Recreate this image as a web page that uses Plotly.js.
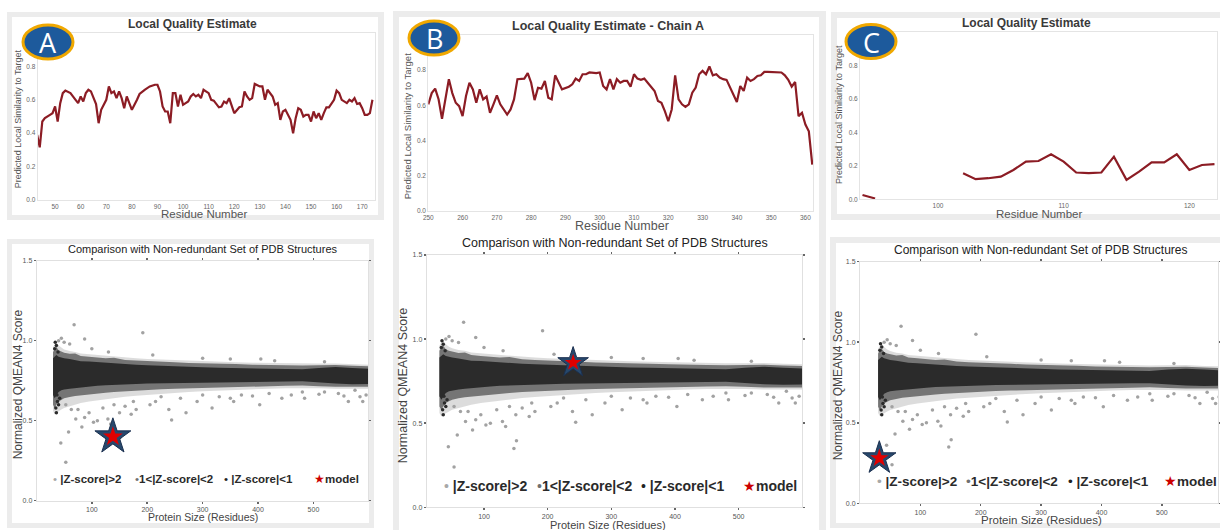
<!DOCTYPE html>
<html><head><meta charset="utf-8">
<script src="https://cdn.plot.ly/plotly-3.0.1.min.js"></script>
<style>html,body{margin:0;padding:0;background:#fff}#chart{width:1220px;height:530px}</style>
</head><body><div id="chart"></div>
<script>
// ---------- Local quality (top row) ----------
const resA = [43,44,45,46,48,49,50,51,52,53,54,56,58,59,60,61,62,63,64,66,67,68,70,71,72,73,74,75,76,77,78,79,80,82,83,85,87,89,90,91,92,93,94,95,96,97,98,99,100,102,103,104,105,106,107,108,110,111,112,114,115,116,117,118,119,120,122,123,124,125,126,127,128,130,131,132,133,134,135,136,137,138,139,140,141,142,143,144,145,146,147,148,149,150,151,152,153,154,155,156,157,159,160,161,162,164,165,166,167,168,169,170,171,172,173,174];
const lqA  = [0.39,0.315,0.47,0.49,0.51,0.52,0.56,0.47,0.58,0.64,0.655,0.64,0.60,0.58,0.62,0.59,0.64,0.66,0.65,0.575,0.46,0.54,0.60,0.68,0.64,0.65,0.61,0.65,0.61,0.55,0.62,0.58,0.54,0.60,0.635,0.66,0.68,0.69,0.69,0.65,0.56,0.53,0.53,0.46,0.64,0.64,0.56,0.63,0.57,0.59,0.62,0.635,0.62,0.63,0.61,0.66,0.64,0.60,0.595,0.555,0.56,0.59,0.58,0.61,0.57,0.52,0.555,0.56,0.65,0.62,0.60,0.61,0.695,0.68,0.68,0.60,0.66,0.64,0.62,0.57,0.58,0.48,0.53,0.54,0.51,0.48,0.40,0.49,0.55,0.54,0.50,0.51,0.51,0.47,0.53,0.49,0.52,0.48,0.52,0.555,0.555,0.60,0.655,0.64,0.60,0.58,0.60,0.59,0.61,0.575,0.58,0.55,0.51,0.51,0.52,0.60];

const resB = [250,251,252,253,254,255,256,257,258,259,260,261,262,263,264,265,266,267,268,269,270,271,272,273,274,275,276,277,278,279,280,281,282,283,284,285,286,287,288,289,291,292,293,294,295,296,297,299,300,301,302,303,304,305,306,307,308,309,310,311,312,313,314,316,317,318,319,320,321,322,323,324,325,326,327,328,329,330,331,332,333,334,335,336,337,338,339,340,341,342,343,344,345,346,347,348,349,350,352,353,354,355,356,357,358,359,360,361,362];
const lqB  = [0.606,0.67,0.695,0.635,0.524,0.635,0.749,0.67,0.615,0.596,0.539,0.653,0.729,0.691,0.615,0.691,0.634,0.65,0.558,0.606,0.657,0.606,0.577,0.548,0.577,0.634,0.749,0.752,0.752,0.783,0.729,0.63,0.70,0.695,0.739,0.644,0.634,0.771,0.729,0.691,0.706,0.72,0.752,0.739,0.777,0.777,0.787,0.783,0.787,0.71,0.691,0.749,0.691,0.749,0.729,0.739,0.739,0.706,0.777,0.752,0.745,0.752,0.729,0.682,0.625,0.615,0.567,0.51,0.577,0.771,0.634,0.606,0.592,0.606,0.672,0.701,0.777,0.796,0.777,0.821,0.771,0.777,0.758,0.749,0.745,0.701,0.653,0.619,0.71,0.682,0.758,0.739,0.749,0.767,0.771,0.79,0.79,0.79,0.787,0.787,0.771,0.745,0.706,0.733,0.539,0.558,0.491,0.453,0.263];

const resC = [94,95,96,102,103,104,105,106,107,108,109,110,111,112,113,114,115,116,117,118,119,120,121,122];
const lqC  = [0.026,0.005,null,0.156,0.12,0.126,0.135,0.175,0.225,0.229,0.269,0.225,0.16,0.156,0.16,0.255,0.116,0.165,0.221,0.221,0.269,0.175,0.205,0.21];

// ---------- PDB reference cloud (bottom row, same set in all panels) ----------
const cloudSize = [30,33,36,40,45,50,60,70,80,95,110,125,140,160,180,200,225,250,275,300,330,360,390,420,450,480,510,540,570,600];
const zLt1Hi = [0.89,0.90,0.91,0.90,0.895,0.89,0.885,0.88,0.872,0.87,0.866,0.86,0.857,0.853,0.85,0.847,0.843,0.84,0.837,0.834,0.831,0.829,0.827,0.825,0.823,0.821,0.83,0.835,0.83,0.825];
const zLt1Lo = [0.66,0.64,0.66,0.68,0.69,0.695,0.70,0.705,0.71,0.714,0.718,0.722,0.725,0.728,0.73,0.732,0.734,0.736,0.738,0.739,0.74,0.741,0.742,0.744,0.745,0.746,0.738,0.732,0.728,0.73];
const z12Hi  = [0.93,0.95,0.96,0.94,0.93,0.925,0.918,0.92,0.905,0.90,0.897,0.89,0.893,0.88,0.876,0.874,0.868,0.866,0.861,0.86,0.855,0.854,0.85,0.85,0.846,0.845,0.846,0.848,0.843,0.84];
const z12Lo  = [0.60,0.58,0.60,0.62,0.63,0.64,0.648,0.655,0.66,0.665,0.67,0.675,0.68,0.685,0.69,0.693,0.697,0.70,0.703,0.706,0.709,0.712,0.714,0.716,0.718,0.72,0.716,0.712,0.71,0.712];
const zGt2Hi = [0.96,0.98,0.99,0.97,0.955,0.945,0.935,0.93,0.92,0.915,0.91,0.905,0.9,0.895,0.89,0.886,0.882,0.878,0.875,0.872,0.868,0.865,0.862,0.86,0.858,0.856,0.857,0.858,0.853,0.85];
const zGt2Lo = [0.56,0.54,0.55,0.56,0.57,0.58,0.59,0.60,0.61,0.62,0.628,0.635,0.642,0.65,0.656,0.662,0.668,0.674,0.679,0.684,0.689,0.693,0.697,0.70,0.703,0.705,0.703,0.70,0.698,0.70];
const outSize  = [68,45,87,192,405,44,53,58,147,151,134,103,87,239,244,270,317,356,403,563,589,584,443,484,205,171,129,110,82,71,63,53,120,140,160,180,215,260,290,330,370,420,460,520,545,575,95,75,150,175,225,300,350,390,480,510,555,595,60,100,130,210,300,350,430,520,40,50];
const outScore = [1.10,1.015,1.01,1.05,0.885,0.36,0.24,0.43,0.35,0.395,0.48,0.49,0.52,0.57,0.505,0.55,0.58,0.62,0.60,0.62,0.62,0.65,0.64,0.64,0.60,0.54,0.51,0.50,0.46,0.51,0.57,0.60,0.58,0.60,0.59,0.57,0.62,0.64,0.62,0.65,0.66,0.67,0.66,0.68,0.67,0.69,0.55,0.57,0.55,0.62,0.65,0.66,0.64,0.655,0.68,0.665,0.655,0.66,0.98,0.95,0.93,0.91,0.89,0.885,0.875,0.868,1.0,0.99];
const darkPtSize  = [33,35,36,38,34,37,40,42,36,39];
const darkPtScore = [0.95,0.58,0.55,0.62,0.99,0.66,0.60,0.64,0.97,0.93];

// model positions
const modelSize  = [138, 240, 32];
const modelScore = [0.40, 0.86, 0.28];

// tick labels
const lqTicksY = [0,0.2,0.4,0.6,0.8];
const ticksA = [50,60,70,80,90,100,110,120,130,140,150,160,170];
const ticksB = [250,260,270,280,290,300,310,320,330,340,350,360];
const ticksC = [100,110,120];
const sizeTicks = [100,200,300,400,500];
const scoreTicks = [0,0.5,1.0,1.5];

// ---------- layout helpers ----------
const W = 1220, H = 530;
const px = x => x / W;
const py = y => 1 - y / H;
const FONT = 'Liberation Sans, Arial, sans-serif';

const traces = [];
const lineColor = '#8c1c24';
function lq(xs, ys, n) {
  traces.push({x: xs, y: ys, type: 'scatter', mode: 'lines', connectgaps: false,
    line: {color: lineColor, width: 2.2}, xaxis: 'x' + n, yaxis: 'y' + n, hoverinfo: 'skip'});
}
lq(resA, lqA, ''); lq(resB, lqB, '2'); lq(resC, lqC, '3');

function band(hi, lo, color, n) {
  traces.push({x: cloudSize.concat(cloudSize.slice().reverse()),
    y: hi.concat(lo.slice().reverse()), type: 'scatter', mode: 'lines', fill: 'toself',
    fillcolor: color, line: {width: 0, color: color}, xaxis: 'x' + n, yaxis: 'y' + n, hoverinfo: 'skip'});
}
[4,5,6].forEach((n, i) => {
  band(zGt2Hi, zGt2Lo, 'rgba(150,150,150,0.33)', n);
  band(z12Hi, z12Lo, '#757575', n);
  band(zLt1Hi, zLt1Lo, '#2b2b2b', n);
  traces.push({x: outSize, y: outScore, type: 'scatter', mode: 'markers',
    marker: {size: 3.5, color: '#a2a2a2'}, xaxis: 'x' + n, yaxis: 'y' + n, hoverinfo: 'skip'});
  traces.push({x: darkPtSize, y: darkPtScore, type: 'scatter', mode: 'markers',
    marker: {size: 3.5, color: '#2b2b2b'}, xaxis: 'x' + n, yaxis: 'y' + n, hoverinfo: 'skip'});
  const ss = [27, 23, 25][i];
  traces.push({x: [modelSize[i]], y: [modelScore[i]], type: 'scatter', mode: 'markers',
    marker: {symbol: 'star', size: ss, color: '#27486c', line: {color: '#1b3050', width: 1}},
    xaxis: 'x' + n, yaxis: 'y' + n, hoverinfo: 'skip'});
  traces.push({x: [modelSize[i]], y: [modelScore[i]], type: 'scatter', mode: 'markers',
    marker: {symbol: 'star', size: ss * 0.55, color: '#e00000'},
    xaxis: 'x' + n, yaxis: 'y' + n, hoverinfo: 'skip'});
});

const layout = {
  width: W, height: H, margin: {l: 0, r: 0, t: 0, b: 0},
  paper_bgcolor: '#ffffff', plot_bgcolor: 'rgba(0,0,0,0)', showlegend: false,
  font: {family: FONT, color: '#444'},
  shapes: [], annotations: []
};

function topAxes(n, xr, yr, xd, yd, tv) {
  layout['xaxis' + n] = {domain: [px(xd[0]), px(xd[1])], range: xr, anchor: 'y' + n,
    tickvals: tv, ticks: '', showgrid: false, zeroline: false, showline: true, mirror: true,
    linecolor: '#e4e4e4', tickfont: {size: 6.5, color: '#666'}, ticklabelstandoff: 0};
  layout['yaxis' + n] = {domain: [py(yd[1]), py(yd[0])], range: yr, anchor: 'x' + n,
    tickvals: lqTicksY, tickformat: '.1f', ticks: '', showgrid: false, zeroline: false,
    showline: true, mirror: true, linecolor: '#e4e4e4', tickfont: {size: 6.5, color: '#666'}};
}
topAxes('', [43.2, 175], [0, 1.0], [37.7, 375], [33, 200], ticksA);
topAxes('2', [250, 362.3], [0, 1.0], [428.3, 813.3], [35, 211], ticksB);
topAxes('3', [93.8, 122.2], [0, 1.0], [860, 1217], [32, 199.3], ticksC);

function botAxes(n, xr, xd, yd) {
  layout['xaxis' + n] = {domain: [px(xd[0]), px(xd[1])], range: xr, anchor: 'y' + n,
    tickvals: sizeTicks, ticks: 'outside', ticklen: 2, tickwidth: 1.5, tickcolor: '#666',
    showgrid: false, zeroline: false, showline: true, mirror: 'ticks', linecolor: '#e0e0e0',
    tickfont: {size: 7, color: '#555'}};
  layout['yaxis' + n] = {domain: [py(yd[1]), py(yd[0])], range: [0, 1.5], anchor: 'x' + n,
    tickvals: scoreTicks, tickformat: '.1f', ticks: 'outside', ticklen: 2, tickwidth: 1.5,
    tickcolor: '#666', showgrid: false, zeroline: false, showline: true, mirror: 'ticks',
    linecolor: '#e0e0e0', tickfont: {size: 7, color: '#555'}};
}
botAxes('4', [0.5, 599], [36.7, 368.3], [260.7, 500.7]);
botAxes('5', [10, 600], [426.7, 802.3], [255, 507.3]);
botAxes('6', [0, 593], [860, 1218], [261.7, 503.3]);

// frames
function rect(x0, y0, x1, y1, color) {
  layout.shapes.push({type: 'rect', xref: 'paper', yref: 'paper', layer: 'below',
    x0: px(x0), x1: px(x1), y0: py(y1), y1: py(y0), fillcolor: color, line: {width: 0}});
}
const GRAY = '#ececec';
rect(7, 12, 384, 220, GRAY);   rect(12, 17, 378, 215, '#fff');
rect(7, 239, 374, 528, GRAY);  rect(12, 244, 369, 523, '#fff');
rect(393, 11, 826, 530, GRAY); rect(399, 17, 819, 530, '#fff');
rect(831, 12, 1220, 220, GRAY); rect(837, 18, 1220, 214, '#fff');
rect(830, 237, 1220, 528, GRAY); rect(836, 243, 1220, 523, '#fff');

function ann(text, x, y, size, opts) {
  layout.annotations.push(Object.assign({text: text, x: px(x), y: py(y), xref: 'paper', yref: 'paper',
    showarrow: false, xanchor: 'center', yanchor: 'middle',
    font: {family: FONT, size: size, color: '#444'}}, opts || {}));
}
// top titles
ann('<b>Local Quality Estimate</b>', 192.5, 24, 12, {font: {family: FONT, size: 12, color: '#3a3a3a'}});
ann('<b>Local Quality Estimate - Chain A</b>', 607.5, 26, 12.5, {font: {family: FONT, size: 12.5, color: '#3a3a3a'}});
ann('<b>Local Quality Estimate</b>', 1026, 23.3, 12, {font: {family: FONT, size: 12, color: '#3a3a3a'}});
const NARROW = 'Liberation Sans Narrow, Liberation Sans, Arial, sans-serif';
ann('Predicted Local Similarity to Target', 18.3, 119, 9, {textangle: -90, font: {family: NARROW, size: 9, color: '#555'}});
ann('Predicted Local Similarity to Target', 408.3, 126, 9.5, {textangle: -90, font: {family: NARROW, size: 9.5, color: '#555'}});
ann('Predicted Local Similarity to Target', 839, 115, 9, {textangle: -90, font: {family: NARROW, size: 9, color: '#555'}});
ann('Residue Number', 204, 214.5, 11.5, {font: {family: FONT, size: 11.5, color: '#555'}});
ann('Residue Number', 621.7, 226, 12.5, {font: {family: FONT, size: 12.5, color: '#555'}});
ann('Residue Number', 1039, 214, 11.5, {font: {family: FONT, size: 11.5, color: '#555'}});

// bottom titles
ann('Comparison with Non-redundant Set of PDB Structures', 203.3, 249.3, 11, {font: {family: FONT, size: 11, color: '#222'}});
ann('Comparison with Non-redundant Set of PDB Structures', 615, 242.7, 12.5, {font: {family: FONT, size: 12.5, color: '#222'}});
ann('Comparison with Non-redundant Set of PDB Structures', 1040, 250, 12, {font: {family: FONT, size: 12, color: '#222'}});
ann('Normalized QMEAN4 Score', 18.3, 384, 12, {textangle: -90, font: {family: FONT, size: 12, color: '#444'}});
ann('Normalized QMEAN4 Score', 403.3, 385, 12.5, {textangle: -90, font: {family: FONT, size: 12.5, color: '#444'}});
ann('Normalized QMEAN4 Score', 838.3, 385, 12, {textangle: -90, font: {family: FONT, size: 12, color: '#444'}});
ann('Protein Size (Residues)', 203.3, 516.7, 10.5, {font: {family: FONT, size: 10.5, color: '#444'}});
ann('Protein Size (Residues)', 608.3, 524.5, 11, {font: {family: FONT, size: 11, color: '#444'}});
ann('Protein Size (Residues)', 1041.7, 520, 11.5, {font: {family: FONT, size: 11.5, color: '#444'}});

// in-plot legends
function legendRow(y, xs, size) {
  const items = [
    '<span style="color:#a8a8a8">•</span> <b>|Z-score|&gt;2</b>',
    '<span style="color:#707070">•</span><b>1&lt;|Z-score|&lt;2</b>',
    '<span style="color:#222">•</span> <b>|Z-score|&lt;1</b>',
    '<span style="color:#cc0000">★</span><b>model</b>'];
  items.forEach((t, i) => ann(t, xs[i], y, size, {xanchor: 'left',
    font: {family: FONT, size: size, color: '#2a2a2a'}}));
}
legendRow(479.3, [51, 133, 222, 312], 11.5);
legendRow(486, [442, 535, 639, 741], 14);
legendRow(481.7, [875, 964, 1066, 1162], 13.5);

// badges
function badge(letter, cx, cy) {
  layout.shapes.push({type: 'circle', xref: 'paper', yref: 'paper', layer: 'above',
    x0: px(cx - 25), x1: px(cx + 25), y0: py(cy + 17), y1: py(cy - 17),
    fillcolor: '#1d5a9c', line: {color: '#f0a800', width: 3}});
  ann(letter, cx, cy + 1, 27, {font: {family: 'Open Sans, sans-serif', size: 27, color: '#ffffff'}});
}
badge('A', 48, 42);
badge('B', 434, 38);
badge('C', 871, 41.5);

Plotly.newPlot('chart', traces, layout, {staticPlot: true, displayModeBar: false});
</script>
</body></html>
